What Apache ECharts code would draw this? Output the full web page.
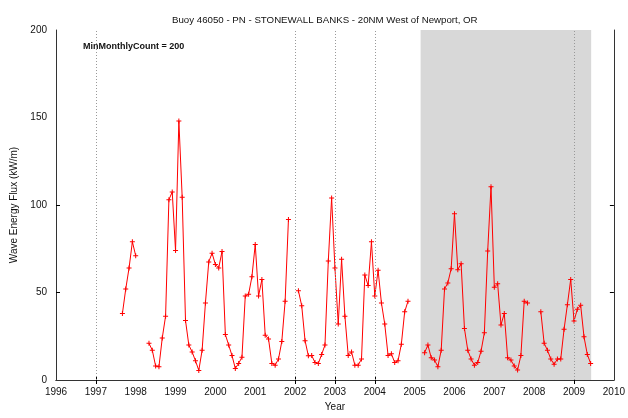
<!DOCTYPE html>
<html><head><meta charset="utf-8">
<script src="https://cdn.jsdelivr.net/npm/echarts@6/dist/echarts.min.js"></script>
<style>html,body{margin:0;padding:0;background:#fff}#c{width:628px;height:418px}</style>
</head><body><div id="c"></div>
<script>
const titleText = 'Buoy 46050 - PN - STONEWALL BANKS - 20NM West of Newport, OR';
const noteText = 'MinMonthlyCount = 200';
const xAxisName = 'Year';
const yAxisName = 'Wave Energy Flux (kW/m)';

// Monthly mean wave energy flux (kW/m), Jan..Dec; null = missing month
const flux1997 = [null, null, null, null, null, null, null, null, 38, 52, 64, 79];
const flux1998 = [71, null, null, null, 21, 17, 8, 7.6, 24, 36.5, 103, 107.5];
const flux1999 = [74, 148, 104.5, 34, 20, 16, 11, 5.5, 17, 44, 67.5, 72.5];
const flux2000 = [66, 64, 73.5, 26, 20, 14, 6.6, 9.5, 13, 48, 49, 59];
const flux2001 = [77.5, 48, 57.4, 25.6, 23.5, 9.5, 8.5, 12, 22, 45, 91.7, null];
const flux2002 = [null, 51, 42.4, 22.5, 13.8, 14, 10, 9.5, 14.6, 20, 68, 104];
const flux2003 = [64, 32, 69, 36.5, 14, 16, 8.5, 8.5, 12, 60, 54, 79];
const flux2004 = [48, 62.7, 44, 32, 14, 15, 10, 11, 20.5, 39, 45, null];
const flux2005 = [null, null, null, 15.6, 20, 12.7, 11.4, 7.6, 17, 52, 55.5, 63.6];
const flux2006 = [95, 63, 66.5, 29.4, 17, 12, 8.5, 10, 16.5, 27, 73.7, 110.5];
const flux2007 = [53, 55, 31.5, 38, 12.7, 11.4, 8, 5.7, 14, 45, 44, null];
const flux2008 = [null, null, 39, 21, 17, 12, 9, 12, 12, 29, 43, 57.5];
const flux2009 = [33.7, 40.5, 42.7, 24.7, 14.6, 9.5];

const years = [1997, 1998, 1999, 2000, 2001, 2002, 2003, 2004, 2005, 2006, 2007, 2008, 2009];
const fluxByYear = [flux1997, flux1998, flux1999, flux2000, flux2001, flux2002, flux2003,
                    flux2004, flux2005, flux2006, flux2007, flux2008, flux2009];

const xMin = 1996, xMax = 2010, xStep = 1;
const yMin = 0, yMax = 200, yStep = 50;
const markerYears = [1997, 2002, 2003, 2004, 2009];
const yTickValues = [50, 100];
const shadeRange = [2005.15, 2009.43];

const points = [];
years.forEach((y, i) => {
  fluxByYear[i].forEach((v, m) => {
    points.push([y + m / 12, v]);
  });
});
while (points.length && points[0][1] === null) points.shift();

const FONT = 'Liberation Sans';
const axisCommon = {
  type: 'value',
  axisLine: { show: true, lineStyle: { color: '#333', width: 1 } },
  splitLine: { show: false }
};

const chart = echarts.init(document.getElementById('c'), null, { renderer: 'canvas' });
chart.setOption({
  animation: false,
  backgroundColor: '#fff',
  title: {
    text: titleText, left: 167, top: 10,
    textStyle: { fontFamily: FONT, fontSize: 9.7, fontWeight: 'normal', color: '#111' }
  },
  graphic: [{
    type: 'text', left: 83, top: 42,
    style: { text: noteText, font: 'bold 9px "Liberation Sans"', fill: '#111' }
  }],
  grid: { left: 56, right: 13, top: 30, bottom: 38, containLabel: false },
  xAxis: [
    Object.assign({}, axisCommon, {
      position: 'bottom', min: xMin, max: xMax, interval: xStep,
      name: xAxisName, nameLocation: 'middle', nameGap: 21,
      nameTextStyle: { fontFamily: FONT, fontSize: 10, color: '#111' },
      axisTick: { show: true, inside: true, length: 4, customValues: markerYears, lineStyle: { color: '#000' } },
      axisLabel: { fontFamily: FONT, fontSize: 10, color: '#111', margin: 7, formatter: v => String(v) }
    }),
    Object.assign({}, axisCommon, {
      position: 'top', min: xMin, max: xMax, interval: xStep,
      axisTick: { show: true, inside: true, length: 4, customValues: markerYears, lineStyle: { color: '#000' } },
      axisLabel: { show: false }
    })
  ],
  yAxis: [
    Object.assign({}, axisCommon, {
      position: 'left', min: yMin, max: yMax, interval: yStep,
      name: yAxisName, nameLocation: 'middle', nameGap: 34,
      nameTextStyle: { fontFamily: FONT, fontSize: 10, color: '#111' },
      axisTick: { show: true, inside: true, length: 4, customValues: yTickValues, lineStyle: { color: '#000' } },
      axisLabel: { fontFamily: FONT, fontSize: 10, color: '#111', margin: 9, formatter: v => String(v) }
    }),
    Object.assign({}, axisCommon, {
      position: 'right', min: yMin, max: yMax, interval: yStep,
      axisTick: { show: true, inside: true, length: 4, customValues: yTickValues, lineStyle: { color: '#000' } },
      axisLabel: { show: false }
    })
  ],
  series: [{
    type: 'line',
    xAxisIndex: 0, yAxisIndex: 0,
    data: points,
    connectNulls: false,
    lineStyle: { color: '#ff0000', width: 1 },
    symbol: 'path://M2,0h1v2h2v1h-2v2h-1v-2h-2v-1h2z',
    symbolSize: 5,
    showSymbol: true,
    itemStyle: { color: '#ff0000' },
    markArea: {
      silent: true,
      itemStyle: { color: '#d8d8d8' },
      data: [[{ xAxis: shadeRange[0] }, { xAxis: shadeRange[1] }]]
    },
    markLine: {
      silent: true, symbol: 'none',
      label: { show: false },
      lineStyle: { type: [1, 2], color: '#999', width: 1 },
      data: markerYears.map(y => ({ xAxis: y }))
    }
  }]
});
</script>
</body></html>
